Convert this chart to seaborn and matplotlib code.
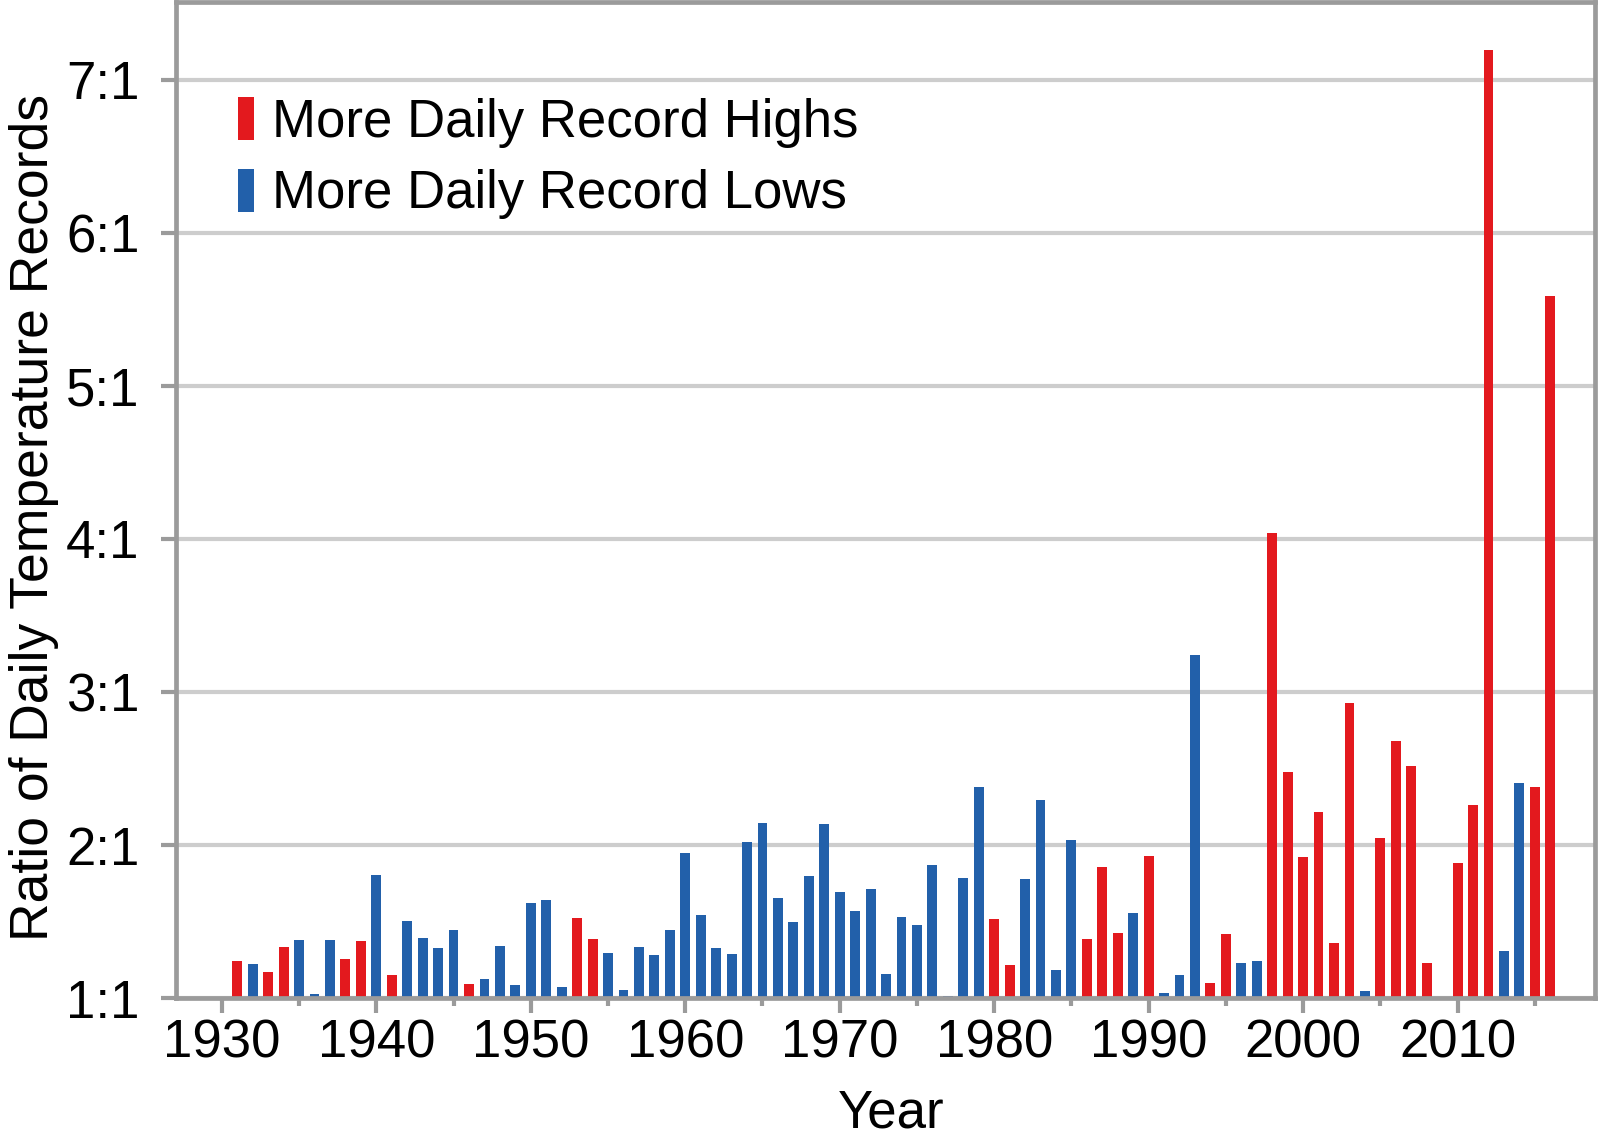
import matplotlib
matplotlib.use("Agg")
import matplotlib.pyplot as plt
from matplotlib.patches import Patch
from matplotlib.ticker import FixedLocator
import seaborn as sns
import pandas as pd

# ---- data ----
years = list(range(1931, 2017))
ratios = [
    1.24, 1.22, 1.17, 1.335, 1.38, 1.026, 1.377, 1.257, 1.375, 1.804,   # 1931-1940
    1.148, 1.505, 1.392, 1.325, 1.444, 1.089, 1.122, 1.34, 1.083, 1.623,  # 1941-1950
    1.641, 1.07, 1.523, 1.383, 1.292, 1.052, 1.331, 1.281, 1.444, 1.95,   # 1951-1960
    1.542, 1.325, 1.285, 2.018, 2.142, 1.651, 1.499, 1.80, 2.139, 1.695,  # 1961-1970
    1.567, 1.71, 1.155, 1.529, 1.475, 1.867, 1.01, 1.786, 2.377, 1.516,   # 1971-1980
    1.216, 1.776, 2.294, 1.183, 2.033, 1.383, 1.857, 1.427, 1.553, 1.928, # 1981-1990
    1.033, 1.15, 3.24, 1.10, 1.416, 1.231, 1.244, 4.041, 2.479, 1.924,    # 1991-2000
    2.216, 1.357, 2.926, 1.044, 2.048, 2.682, 2.518, 1.231, 1.0, 1.88,    # 2001-2010
    2.259, 7.196, 1.307, 2.407, 2.377, 5.588,                             # 2011-2016
]
kinds = list(
    "HLHHLLLHHL"   # 1931-1940
    "HLLLLHLLLL"   # 1941-1950
    "LLHHLLLLLL"   # 1951-1960
    "LLLLLLLLLL"   # 1961-1970
    "LLLLLLLLLH"   # 1971-1980
    "HLLLLHHHLH"   # 1981-1990
    "LLLHHLLHHH"   # 1991-2000
    "HHHLHHHHHH"   # 2001-2010
    "HHLLHH"       # 2011-2016
)
labels_map = {"H": "More Daily Record Highs", "L": "More Daily Record Lows"}
ytick_values = [1, 2, 3, 4, 5, 6, 7]
ytick_labels = ["1:1", "2:1", "3:1", "4:1", "5:1", "6:1", "7:1"]
xtick_major = [1930, 1940, 1950, 1960, 1970, 1980, 1990, 2000, 2010]

RED = "#E3191E"
BLUE = "#2260AA"
GREY = "#9b9b9b"
GRID = "#cdcdcd"

df = pd.DataFrame({"year": years, "ratio": ratios,
                   "kind": [labels_map[k] for k in kinds]})
df["excess"] = df["ratio"] - 1.0   # bars rise from the 1:1 baseline

sns.set_style("white")
plt.rcParams["font.family"] = ["Liberation Sans", "DejaVu Sans"]
plt.rcParams["text.color"] = "black"
plt.rcParams["axes.labelcolor"] = "black"
plt.rcParams["xtick.labelcolor"] = "black"
plt.rcParams["ytick.labelcolor"] = "black"

fig = plt.figure(figsize=(16, 11.47), dpi=100)
ax = fig.add_axes([0.1097, 0.1299, 0.8872, 0.8684])

sns.barplot(data=df, x="year", y="excess", hue="kind",
            palette={labels_map["H"]: RED, labels_map["L"]: BLUE},
            saturation=1, native_scale=True, dodge=False, width=0.64,
            linewidth=0, legend=False, ax=ax, zorder=3)

ax.set_xlim(1927.0, 2018.9)
ax.set_ylim(0, 6.51)

ax.yaxis.set_major_locator(FixedLocator([v - 1 for v in ytick_values]))
ax.set_yticklabels(ytick_labels)
ax.xaxis.set_major_locator(FixedLocator(xtick_major))
ax.xaxis.set_minor_locator(FixedLocator([y + 5 for y in xtick_major]))
ax.set_xticklabels([str(y) for y in xtick_major])

ax.grid(axis="y", color=GRID, linewidth=3, zorder=0)
ax.grid(axis="x", visible=False)
ax.set_axisbelow(True)

for side in ["left", "right", "top", "bottom"]:
    ax.spines[side].set_visible(True)
    ax.spines[side].set_color(GREY)
    ax.spines[side].set_linewidth(3.4)
    ax.spines[side].set_zorder(4)

ax.tick_params(axis="y", which="major", left=True, length=11, width=3,
               color=GREY, pad=15, labelsize=38, labelcolor="black")
ax.tick_params(axis="x", which="major", bottom=True, length=11, width=3,
               color=GREY, pad=4, labelsize=38, labelcolor="black")
ax.tick_params(axis="x", which="minor", bottom=True, length=6, width=3,
               color=GREY)

ax.set_xlabel("Year", fontsize=38, color="black")
ax.set_ylabel("Ratio of Daily Temperature Records", fontsize=38.5, color="black")
ax.xaxis.set_label_coords(0.504, -0.091)
ax.yaxis.set_label_coords(-0.082, 0.482)

handles = [Patch(facecolor=RED, edgecolor="none", label=labels_map["H"]),
           Patch(facecolor=BLUE, edgecolor="none", label=labels_map["L"])]
fig.legend(handles=handles, loc="upper left", bbox_to_anchor=(238 / 1600, 1 - 97 / 1147),
           frameon=False, fontsize=38, handlelength=0.30, handleheight=0.87,
           handletextpad=0.34, labelspacing=0.40, borderpad=0, borderaxespad=0,
           labelcolor="black")

fig.savefig("out.png", dpi=100)
